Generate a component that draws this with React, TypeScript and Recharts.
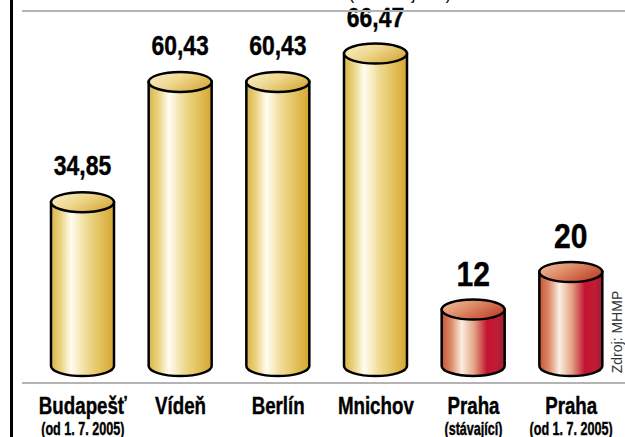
import React from "react";
import { BarChart, Bar, XAxis, YAxis, LabelList, Cell } from "recharts";

const categories = ["Budapešť", "Vídeň", "Berlín", "Mnichov", "Praha", "Praha"];
const subLabels = ["(od 1. 7. 2005)", "", "", "", "(stávající)", "(od 1. 7. 2005)"];
const prices = [34.85, 60.43, 60.43, 66.47, 12, 20];
const valueLabels = ["34,85", "60,43", "60,43", "66,47", "12", "20"];
const titleText = "(v Kč za jízdu)";
const sourceText = "Zdroj: MHMP";

const data = categories.map((c, i) => ({
  key: i,
  name: c,
  sub: subLabels[i],
  price: prices[i],
  label: valueLabels[i],
}));

const FONT = "'Liberation Sans', Arial, Helvetica, sans-serif";
const isPraha = (i: number) => categories[i] === "Praha";

const NarrowText = (p: any) => {
  const { x, y, sx, size, bold, children, fill } = p;
  return (
    <text
      transform={`translate(${x},${y}) scale(${sx},1)`}
      x={0}
      y={0}
      textAnchor="middle"
      fontFamily={FONT}
      fontWeight={bold ? "bold" : "normal"}
      fontSize={size}
      fill={fill || "#000"}
      stroke={bold ? fill || "#000" : "none"}
      strokeWidth={bold ? 0.4 : 0}
    >
      {children}
    </text>
  );
};

const Cylinder = (props: any) => {
  const { x, y, width, height, index } = props;
  const rx = width / 2;
  const ry = 10;
  const bottom = y + height;
  const red = isPraha(index);
  const side = red ? "url(#redSide)" : "url(#goldSide)";
  const top = red ? "url(#redTop)" : "url(#goldTop)";
  return (
    <g>
      <path
        d={`M${x},${y} L${x},${bottom} A${rx},${ry} 0 0 0 ${x + width},${bottom} L${x + width},${y} Z`}
        fill={side}
        stroke="#000"
        strokeWidth={2.5}
      />
      <ellipse cx={x + rx} cy={y} rx={rx} ry={ry} fill={top} stroke="#000" strokeWidth={2.5} />
    </g>
  );
};

const ValueLabel = (props: any) => {
  const { x, y, width, index } = props;
  const big = isPraha(index);
  return (
    <NarrowText x={x + width / 2} y={y - (big ? 24 : 27)} sx={big ? 0.86 : 0.85} size={big ? 35 : 27} bold>
      {valueLabels[index]}
    </NarrowText>
  );
};

const CategoryTick = (props: any) => {
  const { x, y, payload } = props;
  const i = payload.value as number;
  return (
    <g>
      <NarrowText x={x} y={y + 48} sx={0.78} size={24} bold>
        {categories[i]}
      </NarrowText>
      {subLabels[i] ? (
        <NarrowText x={x} y={y + 69} sx={0.7} size={18} bold>
          {subLabels[i]}
        </NarrowText>
      ) : null}
    </g>
  );
};

export default function App() {
  return (
    <div style={{ position: "absolute", left: 0, top: 0, width: 625, height: 437, background: "#fff" }}>
      <svg width={0} height={0} style={{ position: "absolute" }}>
        <defs>
          <linearGradient id="goldSide" x1="0" y1="0" x2="1" y2="0">
            <stop offset="0" stopColor="#d6b44c" />
            <stop offset="0.15" stopColor="#ead27e" />
            <stop offset="0.32" stopColor="#fffdf2" />
            <stop offset="0.55" stopColor="#f0dc98" />
            <stop offset="0.8" stopColor="#e2bf58" />
            <stop offset="1" stopColor="#d4a634" />
          </linearGradient>
          <linearGradient id="goldTop" x1="0" y1="0" x2="1" y2="0.6">
            <stop offset="0" stopColor="#faf0cc" />
            <stop offset="0.5" stopColor="#efd890" />
            <stop offset="1" stopColor="#d8ae44" />
          </linearGradient>
          <linearGradient id="redSide" x1="0" y1="0" x2="1" y2="0">
            <stop offset="0" stopColor="#c65438" />
            <stop offset="0.15" stopColor="#dc8a68" />
            <stop offset="0.32" stopColor="#fbeee2" />
            <stop offset="0.52" stopColor="#e2a282" />
            <stop offset="0.72" stopColor="#c41432" />
            <stop offset="0.88" stopColor="#c01c36" />
            <stop offset="1" stopColor="#9c2030" />
          </linearGradient>
          <linearGradient id="redTop" x1="0" y1="0" x2="1" y2="0.6">
            <stop offset="0" stopColor="#f2c4a6" />
            <stop offset="0.5" stopColor="#de8a66" />
            <stop offset="1" stopColor="#c04830" />
          </linearGradient>
        </defs>
      </svg>
      <BarChart width={625} height={437} data={data} margin={{ top: 37, right: 5, left: 34, bottom: 0 }}>
        <XAxis
          dataKey="key"
          type="category"
          height={71}
          axisLine={false}
          tickLine={false}
          tickSize={0}
          tickMargin={0}
          interval={0}
          tick={<CategoryTick />}
        />
        <YAxis hide domain={[0, 70]} />
        <Bar dataKey="price" barSize={63} isAnimationActive={false} shape={<Cylinder />}>
          {data.map((d) => (
            <Cell key={d.key} />
          ))}
          <LabelList dataKey="label" content={<ValueLabel />} />
        </Bar>
      </BarChart>
      <svg width={625} height={437} style={{ position: "absolute", left: 0, top: 0, pointerEvents: "none" }}>
        <rect x={10} y={0} width={3} height={437} fill="#000" />
        <rect x={22} y={10} width={603} height={2} fill="#b4b4b4" />
        <rect x={22} y={382} width={603} height={2} fill="#b4b4b4" />
        <NarrowText x={400} y={-1} sx={0.85} size={19}>
          {titleText}
        </NarrowText>
        <text
          x={0}
          y={0}
          transform="translate(622, 332) rotate(-90)"
          textAnchor="middle"
          fontFamily={FONT}
          fontSize={14}
          fill="#333"
        >
          {sourceText}
        </text>
      </svg>
    </div>
  );
}
